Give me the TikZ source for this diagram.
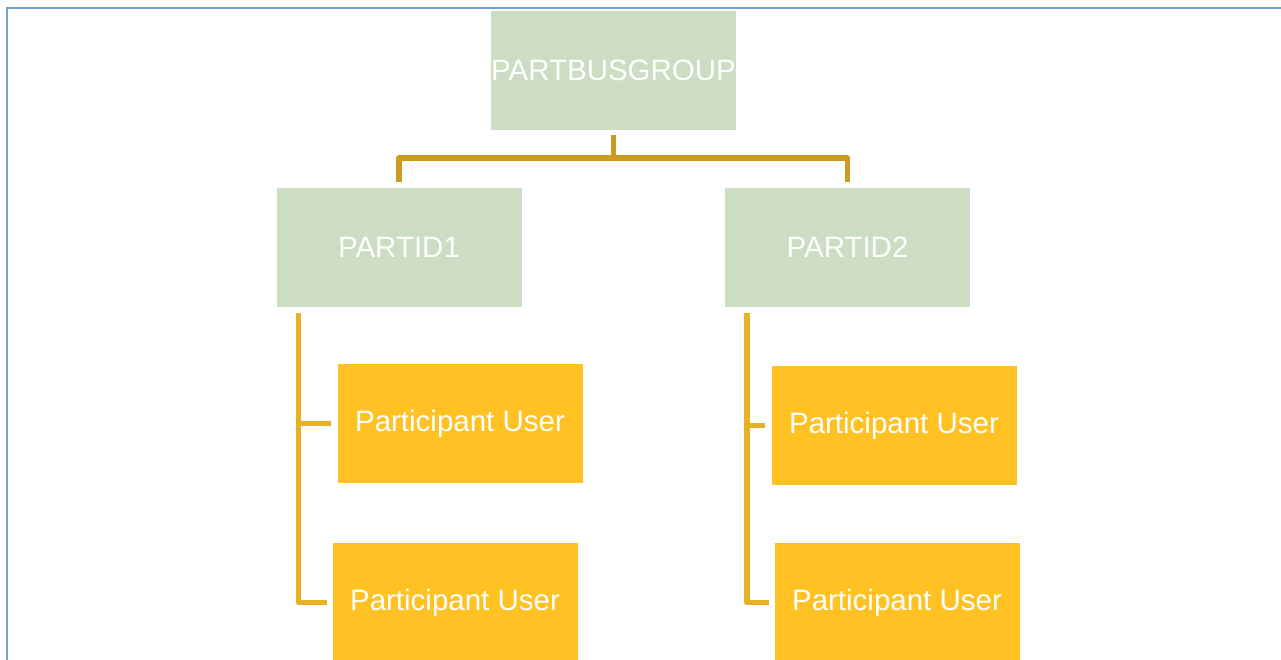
\documentclass[tikz,border=0pt]{standalone}
\usepackage{fontspec}
\setmainfont{Liberation Sans}
\definecolor{greenbox}{RGB}{204,221,196}
\definecolor{orangebox}{RGB}{255,194,34}
\definecolor{goldA}{RGB}{204,156,32}
\definecolor{goldB}{RGB}{230,178,36}
\definecolor{framecol}{RGB}{118,163,214}
\begin{document}
\begin{tikzpicture}[x=1pt,y=1pt,
  box/.style={draw=none,minimum width=245pt,minimum height=119pt,inner sep=0pt,
    text=white,font=\fontsize{29.5}{32}\selectfont},
  gbox/.style={box,fill=greenbox},
  obox/.style={box,fill=orangebox},
  connA/.style={draw=goldA,line width=5.5pt,line join=round},
  connB/.style={draw=goldB,line width=5.5pt,line join=round}]
\useasboundingbox (0,0) rectangle (1281,-659);
\clip (0,0) rectangle (1281,-659);
\draw[framecol,line width=2.5pt] (7,-8) rectangle (1300,-700);
\node[gbox] (top) at (613.5,-70.5) {PARTBUSGROUP};
\node[gbox] (p1) at (399,-247.5) {PARTID1};
\node[gbox] (p2) at (847.5,-247.5) {PARTID2};
\node[obox] (u11) at (460,-423.5) {Participant User};
\node[obox] (u12) at (455,-602.5) {Participant User};
\node[obox] (u21) at (894,-425.5) {Participant User};
\node[obox] (u22) at (897,-602.5) {Participant User};
\draw[connA] ([yshift=-5pt]top.south) -- ++(0,-23) -| ([yshift=6pt]p1.north);
\draw[connA] ([yshift=-5pt]top.south) -- ++(0,-23) -| ([yshift=6pt]p2.north);
\draw[connB] ([xshift=22pt,yshift=-6pt]p1.south west) |- ([xshift=-5pt]u12.west);
\draw[connB] ([xshift=22pt]p1.south west |- u11.west) -- ([xshift=-6pt]u11.west);
\draw[connB] ([xshift=22pt,yshift=-6pt]p2.south west) |- ([xshift=-5pt]u22.west);
\draw[connB] ([xshift=22pt]p2.south west |- u21.west) -- ([xshift=-6pt]u21.west);
\end{tikzpicture}
\end{document}
